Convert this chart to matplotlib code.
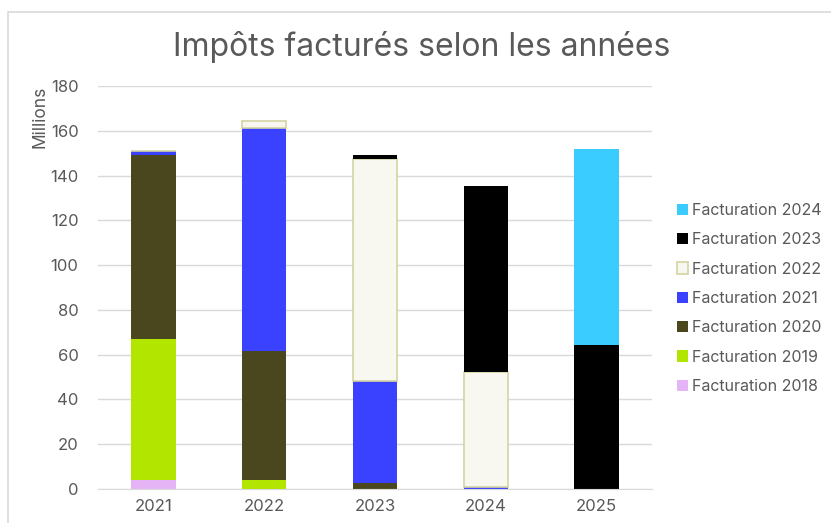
import matplotlib.pyplot as plt
from matplotlib.patches import Rectangle

plt.rcParams['font.family'] = ['Inter', 'DejaVu Sans']

YEARS = ['2021', '2022', '2023', '2024', '2025']

SERIES = {
    'Facturation 2018': [4.0, 0, 0, 0, 0],
    'Facturation 2019': [63.0, 4.0, 0, 0, 0],
    'Facturation 2020': [82.2, 57.6, 2.8, 0, 0],
    'Facturation 2021': [1.8, 99.6, 45.4, 1.0, 0],
    'Facturation 2022': [0, 3.3, 99.0, 51.1, 0],
    'Facturation 2023': [0, 0, 2.0, 83.4, 64.3],
    'Facturation 2024': [0, 0, 0, 0, 87.4],
}

STYLE = {
    'Facturation 2018': {'color': '#e4b4f7'},
    'Facturation 2019': {'color': '#b2e600'},
    'Facturation 2020': {'color': '#4a471e'},
    'Facturation 2021': {'color': '#3b42ff'},
    'Facturation 2022': {'color': '#f8f8f0', 'edgecolor': '#d4d4a4', 'linewidth': 1.2},
    'Facturation 2023': {'color': '#000000'},
    'Facturation 2024': {'color': '#3acbff'},
}

GREY = '#595959'

fig = plt.figure(figsize=(8.31, 5.23), dpi=100)
fig.patches.append(Rectangle((8 / 831, -0.1), 1.2, (523 - 12) / 523 + 0.1,
                             transform=fig.transFigure, fill=False,
                             edgecolor='#d9d9d9', linewidth=1.2))
ax = fig.add_axes([98 / 831, 34 / 523, 554 / 831, 403 / 523])

x = range(len(YEARS))
bottom = [0] * len(YEARS)
handles = []
for name, values in SERIES.items():
    h = ax.bar(x, values, width=0.4, bottom=bottom, label=name, **STYLE[name])
    handles.append(h)
    bottom = [b + v for b, v in zip(bottom, values)]

ax.set_xlim(-0.5, 4.5)
ax.set_ylim(0, 180)
ax.set_yticks(range(0, 181, 20))
ax.set_xticks(list(x))
ax.set_xticklabels(YEARS)
ax.grid(axis='y', color='#d9d9d9', linewidth=1)
ax.set_axisbelow(True)
for side in ['top', 'right', 'left']:
    ax.spines[side].set_visible(False)
ax.spines['bottom'].set_color('#d9d9d9')
ax.tick_params(length=0, labelsize=12, labelcolor=GREY, pad=7)
ax.tick_params(axis='y', pad=14)

ax.set_ylabel('Millions', loc='top', fontsize=12.5, color=GREY, labelpad=1)
fig.suptitle('Impôts facturés selon les années', x=0.508, y=0.94,
             fontsize=23, color=GREY)

ax.legend(handles[::-1], list(SERIES)[::-1], loc='center left',
          bbox_to_anchor=(1.019, 0.473), frameon=False, fontsize=11.5,
          labelcolor=GREY, handlelength=0.7, handleheight=0.7,
          handletextpad=0.25, labelspacing=0.9)

plt.savefig('out.png', dpi=100)
plt.close()
